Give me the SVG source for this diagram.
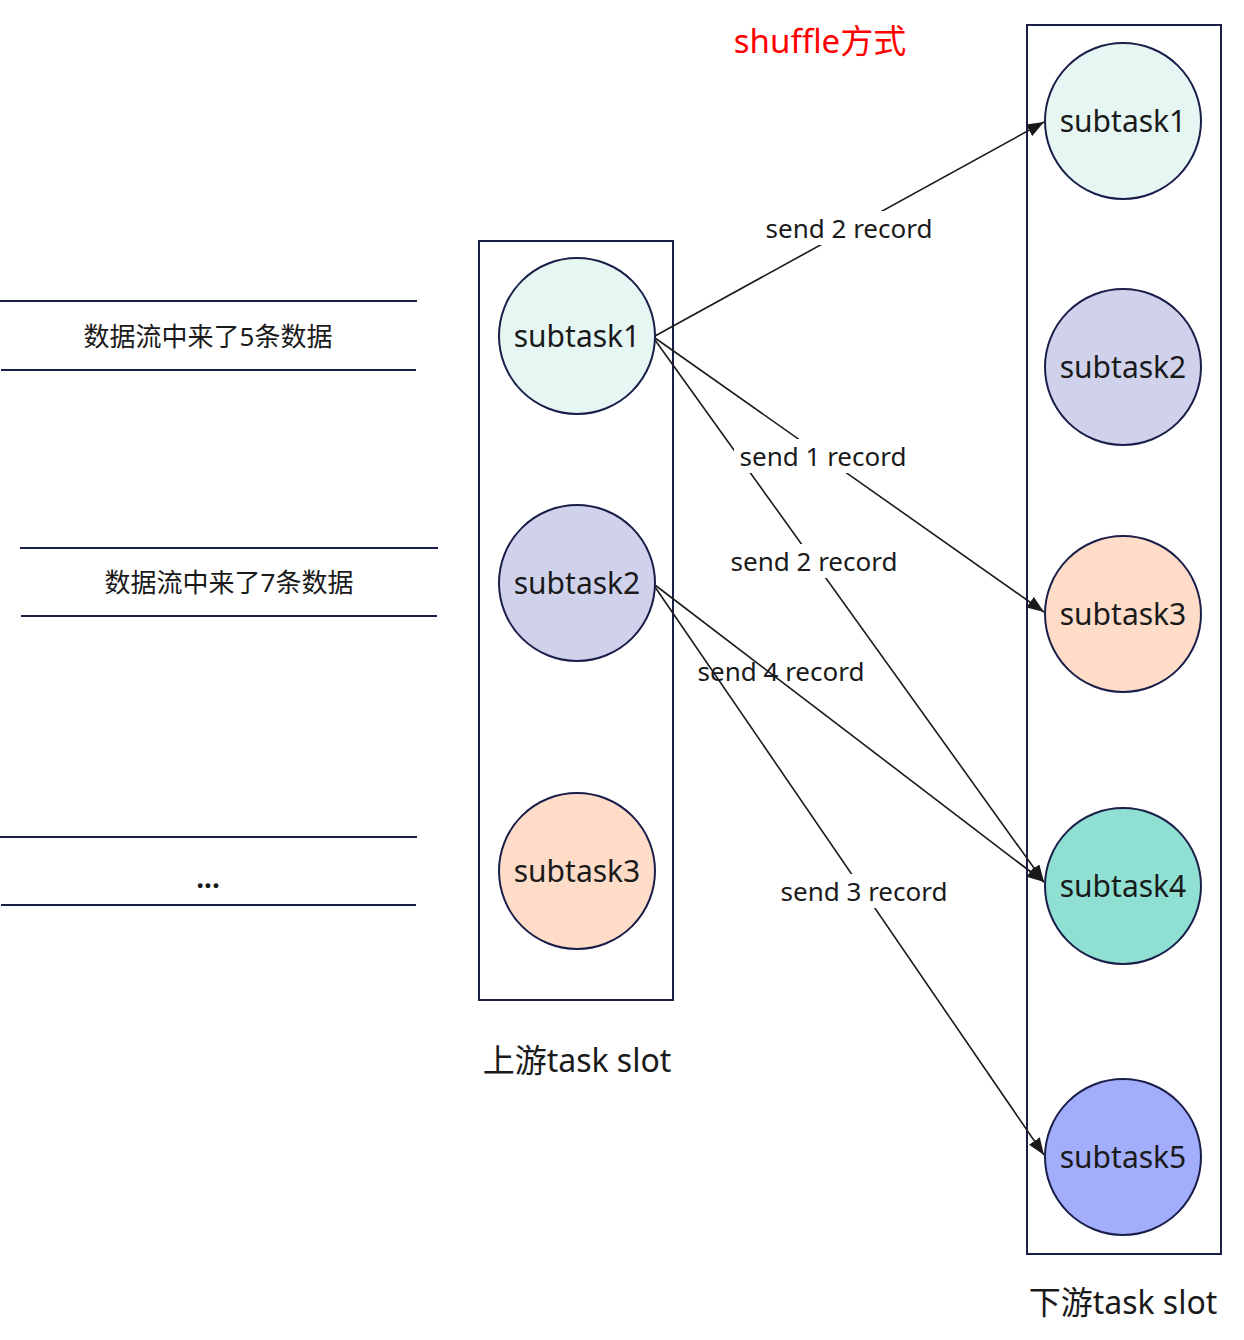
<svg xmlns="http://www.w3.org/2000/svg" width="1244" height="1340" viewBox="0 0 1244 1340">
<defs>
<marker id="arr" markerUnits="userSpaceOnUse" markerWidth="20" markerHeight="14" refX="17" refY="6.5" orient="auto">
<path d="M0,0 L17,6.5 L0,13 Z" fill="#1a1a1a"/>
</marker>
<style>
.box{fill:none;stroke:#1a1f4a;stroke-width:2}
.node circle{stroke:#1a1f4a;stroke-width:2}
.nt{font-family:"Noto Sans","Open Sans","Noto Sans CJK SC",sans-serif;font-size:30px;fill:#1a1a1a;text-anchor:middle}
.lbl{font-family:"Noto Sans","Open Sans","Noto Sans CJK SC",sans-serif;font-size:26px;fill:#1a1a1a;text-anchor:middle}
.cap{font-family:"Noto Sans","Noto Sans CJK SC",sans-serif;font-size:32px;fill:#1a1a1a;text-anchor:middle}
.cn{font-family:"Noto Sans","Noto Sans CJK SC",sans-serif;font-size:26px;fill:#1a1a1a;text-anchor:middle}
.hl{stroke:#1a1f4a;stroke-width:2}
.edge{stroke:#1a1a1a;stroke-width:1.6;fill:none}
.bg{fill:#ffffff}
</style>
</defs>
<rect width="1244" height="1340" fill="#ffffff"/>

<text x="820" y="53" class="cap" style="fill:#ff0000;font-size:33px">shuffle方式</text>

<g id="streams">
<line class="hl" x1="0" y1="301" x2="417" y2="301"/>
<line class="hl" x1="1" y1="370" x2="416" y2="370"/>
<text class="cn" x="208" y="346">数据流中来了5条数据</text>
<line class="hl" x1="20" y1="548" x2="438" y2="548"/>
<line class="hl" x1="21" y1="616" x2="437" y2="616"/>
<text class="cn" x="229" y="592">数据流中来了7条数据</text>
<line class="hl" x1="0" y1="837" x2="417" y2="837"/>
<line class="hl" x1="1" y1="905" x2="416" y2="905"/>
<text class="cn" x="208" y="888" style="font-weight:bold;font-size:28px">...</text>
</g>

<g id="upstream-slot">
<rect class="box" x="479" y="241" width="194" height="759"/>
<text class="cap" x="577" y="1072">上游task slot</text>
</g>
<g id="downstream-slot">
<rect class="box" x="1027" y="25" width="194" height="1229"/>
<text class="cap" x="1123" y="1314">下游task slot</text>
</g>

<g id="connectors">
<line class="edge" x1="655" y1="336" x2="1044" y2="122" marker-end="url(#arr)"/>
<line class="edge" x1="655" y1="338" x2="1044" y2="612" marker-end="url(#arr)"/>
<line class="edge" x1="655" y1="340" x2="1044" y2="882" marker-end="url(#arr)"/>
<line class="edge" x1="655" y1="585" x2="1044" y2="882" marker-end="url(#arr)"/>
<line class="edge" x1="655" y1="587" x2="1044" y2="1155" marker-end="url(#arr)"/>
<rect class="bg" x="760" y="211" width="178" height="34"/>
<text class="lbl" x="849" y="238">send 2 record</text>
<rect class="bg" x="734" y="439" width="178" height="34"/>
<text class="lbl" x="823" y="466">send 1 record</text>
<rect class="bg" x="725" y="544" width="178" height="34"/>
<text class="lbl" x="814" y="571">send 2 record</text>
<text class="lbl" x="781" y="681">send 4 record</text>
<rect class="bg" x="775" y="874" width="178" height="34"/>
<text class="lbl" x="864" y="901">send 3 record</text>
</g>

<g id="up-subtask1" class="node"><circle cx="577" cy="336" r="78" fill="#e6f6f2"/><text class="nt" x="577" y="347">subtask1</text></g>
<g id="up-subtask2" class="node"><circle cx="577" cy="583" r="78" fill="#d0d2ec"/><text class="nt" x="577" y="594">subtask2</text></g>
<g id="up-subtask3" class="node"><circle cx="577" cy="871" r="78" fill="#fedcc8"/><text class="nt" x="577" y="882">subtask3</text></g>

<g id="down-subtask1" class="node"><circle cx="1123" cy="121" r="78" fill="#e6f6f2"/><text class="nt" x="1123" y="132">subtask1</text></g>
<g id="down-subtask2" class="node"><circle cx="1123" cy="367" r="78" fill="#d0d2ec"/><text class="nt" x="1123" y="378">subtask2</text></g>
<g id="down-subtask3" class="node"><circle cx="1123" cy="614" r="78" fill="#fedcc8"/><text class="nt" x="1123" y="625">subtask3</text></g>
<g id="down-subtask4" class="node"><circle cx="1123" cy="886" r="78" fill="#8fe0d3"/><text class="nt" x="1123" y="897">subtask4</text></g>
<g id="down-subtask5" class="node"><circle cx="1123" cy="1157" r="78" fill="#a2adfc"/><text class="nt" x="1123" y="1168">subtask5</text></g>
</svg>
